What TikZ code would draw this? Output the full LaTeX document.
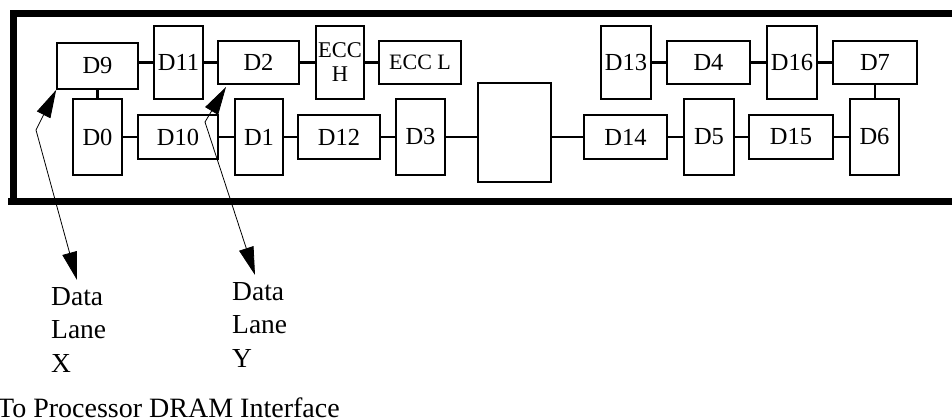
\documentclass[tikz,border=0pt]{standalone}
\usepackage{fontspec}
\setmainfont{Liberation Serif}
\usetikzlibrary{arrows.meta}
\tikzset{
  box/.style={draw, line width=1.6pt, inner sep=0pt, minimum width=#1, font=\fontsize{24.5}{28}\selectfont},
  conn/.style={line width=2.4pt},
  frame/.style={line width=7pt},
  lane/.style={line width=0.8pt, {Triangle[length=28pt,width=15pt]}-{Triangle[length=28pt,width=15pt]}},
  txt/.style={inner sep=0pt, anchor=base west, align=left, font=\fontsize{27.5}{33.5}\selectfont},
}
\begin{document}
\begin{tikzpicture}[x=1pt,y=-1pt]
\useasboundingbox (0,0) rectangle (952,419);
% frame
\draw[frame, line join=miter] (952,13.5) -- (13.5,13.5) -- (13.5,201.5);
\draw[frame] (8,201.5) -- (952,201.5);
% upper row
\node[box=81pt, minimum height=46pt] (D9) at (97.5,66) {D9\hspace{15pt}};
\node[box=49pt, minimum height=73pt] (D11) at (178.5,62.5) {D11};
\node[box=81pt, minimum height=43pt] (D2) at (258.5,62.5) {D2};
\node[box=48pt, minimum height=73pt, align=center, font=\fontsize{22.5}{24}\selectfont] (ECCH) at (340,62.5) {ECC\\H};
\node[box=82pt, minimum height=43pt, font=\fontsize{22}{24}\selectfont] (ECCL) at (420,62.5) {ECC L};
\node[box=50pt, minimum height=73pt] (D13) at (626,62.5) {D13};
\node[box=83pt, minimum height=43pt] (D4) at (708.5,62.5) {D4\hspace{12pt}};
\node[box=50pt, minimum height=73pt] (D16) at (792,62.5) {D16};
\node[box=84pt, minimum height=43pt] (D7) at (875,62.5) {D7\hspace{14pt}};
% lower row
\node[box=49pt, minimum height=76pt] (D0) at (97.5,137) {D0\hspace{13pt}};
\node[box=80pt, minimum height=44pt] (D10) at (178,137) {D10};
\node[box=48pt, minimum height=76pt] (D1) at (259,137) {D1};
\node[box=82pt, minimum height=44pt] (D12) at (339,137) {D12};
\node[box=49pt, minimum height=76pt] (D3) at (420.5,137) {D3};
\node[box=73pt, minimum height=99pt] (BIG) at (514.5,132.5) {};
\node[box=83pt, minimum height=44pt] (D14) at (625.5,137) {D14};
\node[box=50pt, minimum height=76pt] (D5) at (709,137) {D5\hspace{13pt}};
\node[box=84pt, minimum height=44pt] (D15) at (791,137) {D15};
\node[box=49pt, minimum height=76pt] (D6) at (874.5,137) {D6\hspace{5pt}};
% connectors upper
\draw[conn] (D11.west -| D9.east) -- (D11.west);
\draw[conn] (D11.east) -- (D2.west);
\draw[conn] (D2.east) -- (ECCH.west);
\draw[conn] (ECCH.east) -- (ECCL.west);
\draw[conn] (D13.east) -- (D4.west);
\draw[conn] (D4.east) -- (D16.west);
\draw[conn] (D16.east) -- (D7.west);
\draw[conn] (D9.south) -- (D9.south |- D0.north);
\draw[conn] (D7.south) -- (D7.south |- D6.north);
% connectors lower
\draw[conn] (D0.east) -- (D10.west);
\draw[conn] (D10.east) -- (D1.west);
\draw[conn] (D1.east) -- (D12.west);
\draw[conn] (D12.east) -- (D3.west);
\draw[conn] (D3.east) -- (D3.east -| BIG.west);
\draw[conn] (D14.west -| BIG.east) -- (D14.west);
\draw[conn] (D14.east) -- (D5.west);
\draw[conn] (D5.east) -- (D15.west);
\draw[conn] (D15.east) -- (D6.west);
% data lanes
\coordinate (xk) at (36,130);
\coordinate (xe) at (77,280);
\coordinate (yt) at (226,87);
\coordinate (yk) at (205,122);
\coordinate (ye) at (255,275);
\draw[lane] (D9.south west) -- (xk) -- (xe);
\draw[lane] (yt) -- (yk) -- (ye);
\node[txt] (LX) at (51,372) {Data\\Lane\\X};
\node[txt] (LY) at (232,367) {Data\\Lane\\Y};
\node[inner sep=0pt, anchor=base west, font=\fontsize{28}{33}\selectfont] (DRAM) at (-3,417) {To Processor DRAM Interface};
\end{tikzpicture}
\end{document}
